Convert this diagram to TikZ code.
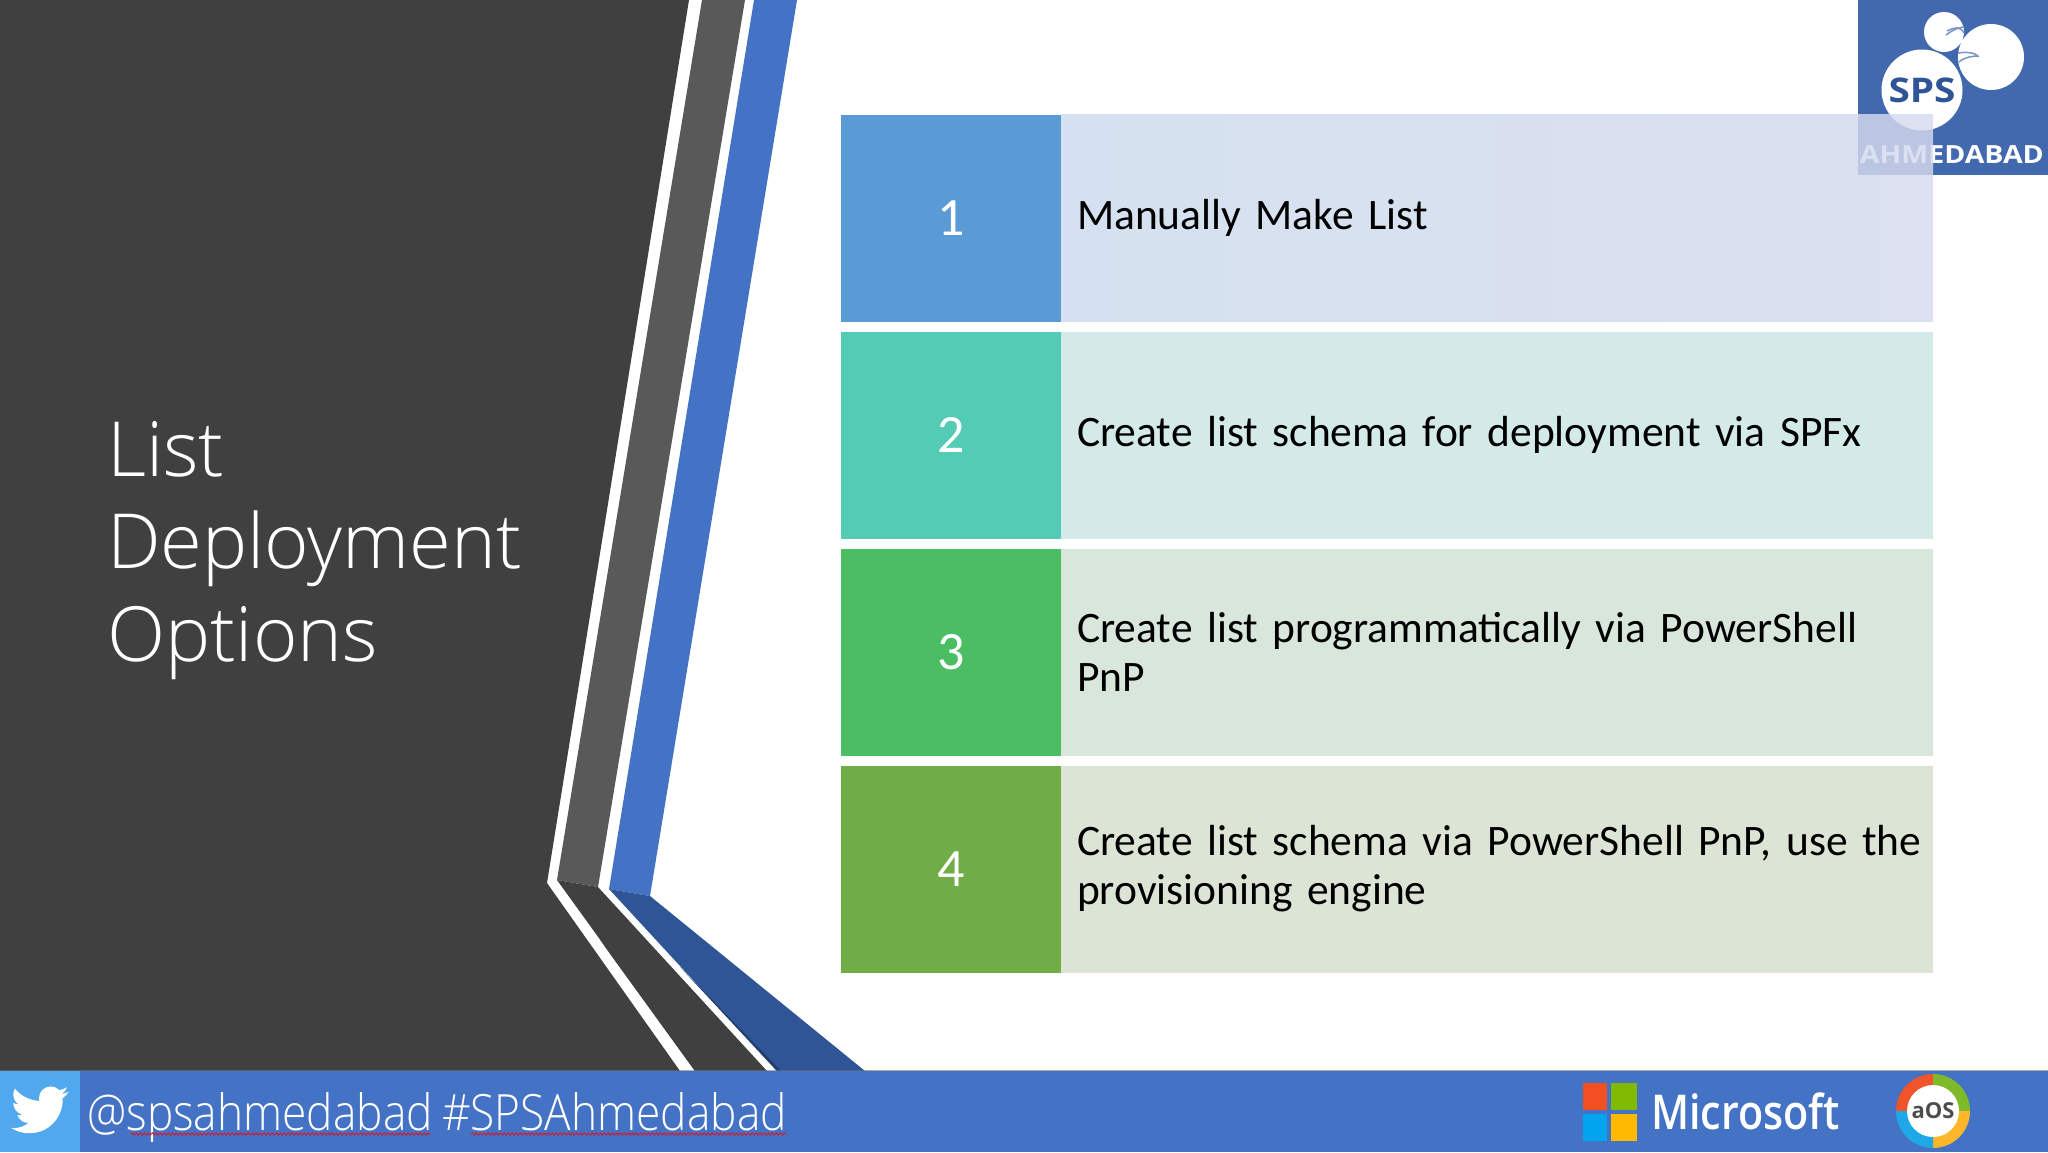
\documentclass[tikz,border=0pt]{standalone}
\usepackage{fontspec}
\setmainfont[WordSpace=0.9]{Carlito}
\newfontfamily\lightfont{Open Sans Light}
\newfontfamily\barfont[FakeStretch=0.885]{Open Sans Light}
\newfontfamily\logofont[FakeStretch=1.14]{Open Sans}
\newfontfamily\msfont[FakeStretch=0.86]{Open Sans Semibold}
\newfontfamily\aosfont{Open Sans}
\usetikzlibrary{decorations.pathmorphing}
\definecolor{slidedark}{HTML}{404040}
\definecolor{stripegrey}{HTML}{595959}
\definecolor{stripeblue}{HTML}{4472C4}
\definecolor{foldblue}{HTML}{2F5597}
\definecolor{logoblue}{HTML}{4268AE}
\definecolor{tweetblue}{HTML}{52A8EC}
\definecolor{rowonestart}{HTML}{CDDBED}
\definecolor{rowoneend}{HTML}{D5DAEE}
\tikzset{
  numbox/.style={minimum width=220, minimum height=207, inner sep=0, text=white, font=\fontsize{54}{54}\selectfont},
  bodybox/.style={minimum width=872, minimum height=207, inner sep=16, text width=840, align=left, font=\fontsize{43.5}{49}\selectfont},
  squiggle/.style={draw=red!75!stripeblue, line width=0.9, decorate, decoration={snake, amplitude=1.2, segment length=4}}
}
\begin{document}
\begin{tikzpicture}[x=1pt, y=-1pt]
    \useasboundingbox (0,0) rectangle (2048,1152);
    \fill[white] (0,0) rectangle (2048,1152);
    \fill[slidedark] (0,0) -- (689,0) -- (547,883) -- (680,1071) -- (0,1071) -- cycle;
    \fill[stripegrey] (702,0) -- (745,0) -- (598,887) -- (557,880) -- cycle;
    \fill[slidedark] (557,880) -- (598,887) -- (767,1071) -- (695,1071) -- cycle;
    \fill[black!75] (600,940) -- (695,1071) -- (701,1071) -- cycle;
    \fill[stripeblue] (754,0) -- (797,0) -- (650,896) -- (609,889) -- cycle;
    \fill[foldblue] (609,889) -- (650,896) -- (865,1071) -- (777,1071) -- cycle;
    \fill[foldblue!70!black] (680,967) -- (777,1071) -- (781,1071) -- cycle;

    \fill[logoblue] (1858,0) rectangle (2048,175);
    \fill[white] (1944,32) circle (20) (1991,57) circle (33) (1922,90) circle (40.5);
    \draw[logoblue!70!white, line width=1.5] (1946,35) .. controls (1955,28) and (1962,27) .. (1964,27)
      (1947,31) .. controls (1955,27) and (1960,26) .. (1964,33)
      (1958,53) .. controls (1965,52) and (1972,52) .. (1977,55)
      (1959,62) .. controls (1965,57) and (1972,56) .. (1979,56);
    \node[text=foldblue, font=\logofont\bfseries\fontsize{34}{34}\selectfont] (spsmark) at (1922,90) {SPS};
    \node[text=white, font=\logofont\bfseries\fontsize{25}{25}\selectfont, anchor=east, inner sep=0] (ahmedabad) at (2044,155) {AHMEDABAD};

    \foreach \i/\y/\numcol/\bodycol/\txt in {
      1/218/5B9BD5/CDDBED/{Manually Make List},
      2/435/54CBB5/D4EAE8/{Create list schema for deployment via SPFx},
      3/652/4BBE64/D8E6DC/{Create list programmatically via PowerShell\\PnP},
      4/869/70AD47/DCE5D5/{\mbox{Create list schema via PowerShell PnP, use the}\\provisioning engine}} {
      \definecolor{numfill}{HTML}{\numcol}
      \definecolor{bodyfill}{HTML}{\bodycol}
      \ifnum\i=1
        \node[bodybox, left color=rowonestart, right color=rowoneend, fill opacity=0.83, text opacity=1] (body\i) at (1497,\y) {\txt};
      \else
        \node[bodybox, fill=bodyfill] (body\i) at (1497,\y) {\txt};
      \fi
      \node[numbox, fill=numfill] (num\i) at (951,\y) {\i};
    }

    \node[text=white, anchor=north west, inner sep=0, align=left, font=\lightfont\fontsize{76}{92.5}\selectfont] (title) at (107,421) {List\\Deployment\\Options};

    \fill[stripeblue] (0,1071) rectangle (2048,1152);
    \fill[black!55, opacity=0.6] (0,1070) rectangle (2048,1071);
    \fill[tweetblue] (0,1071) rectangle (80,1152);
    \begin{scope}[shift={(11,1081)}, x=2.4pt, y=-2.4pt]
      \fill[white] (23.954,4.569) .. controls (23.069,4.958) and (22.124,5.223) .. (21.129,5.344)
        .. controls (22.143,4.733) and (22.923,3.77) .. (23.292,2.621)
        .. controls (22.341,3.176) and (21.287,3.58) .. (20.165,3.805)
        .. controls (19.269,2.846) and (17.992,2.246) .. (16.574,2.246)
        .. controls (13.857,2.246) and (11.654,4.449) .. (11.654,7.163)
        .. controls (11.654,7.553) and (11.699,7.928) .. (11.781,8.287)
        .. controls (7.691,8.094) and (4.066,6.13) .. (1.64,3.161)
        .. controls (1.213,3.883) and (.974,4.722) .. (.974,5.636)
        .. controls (.974,7.346) and (1.844,8.849) .. (3.162,9.732)
        .. controls (2.355,9.706) and (1.596,9.484) .. (.934,9.116)
        -- (.934,9.177)
        .. controls (.934,11.562) and (2.627,13.551) .. (4.88,14.004)
        .. controls (4.467,14.115) and (4.031,14.175) .. (3.584,14.175)
        .. controls (3.27,14.175) and (2.969,14.145) .. (2.668,14.089)
        .. controls (3.299,16.042) and (5.113,17.466) .. (7.272,17.506)
        .. controls (5.592,18.825) and (3.463,19.611) .. (1.17,19.611)
        .. controls (.78,19.611) and (.391,19.588) .. (0,19.544)
        .. controls (2.189,20.938) and (4.768,21.753) .. (7.557,21.753)
        .. controls (16.611,21.753) and (21.556,14.257) .. (21.556,7.767)
        .. controls (21.556,7.558) and (21.556,7.347) .. (21.541,7.137)
        .. controls (22.502,6.448) and (23.341,5.577) .. (24.001,4.589) -- cycle;
    \end{scope}
    \node[text=white, anchor=base west, inner sep=0, font=\barfont\fontsize{50}{50}\selectfont] (handle) at (87,1130) {@spsahmedabad};
    \node[text=white, anchor=base west, inner sep=0, font=\barfont\fontsize{50}{50}\selectfont] (hashtag) at (442,1130) {\#SPSAhmedabad};
    \coordinate (handleA) at (131,1134);
    \coordinate (handleB) at (431,1134);
    \coordinate (hashA) at (471,1134);
    \coordinate (hashB) at (787,1134);
    \draw[squiggle] (handleA) -- (handleB);
    \draw[squiggle] (hashA) -- (hashB);

    \foreach \xa/\ya/\xb/\yb/\tilecol in {1583/1083/1607/1110/F25022, 1611/1083/1637/1110/7FBA00, 1583/1114/1607/1141/00A4EF, 1611/1114/1637/1141/FFB900} {
      \definecolor{tilefill}{HTML}{\tilecol}
      \fill[tilefill] (\xa,\ya) rectangle (\xb,\yb);
    }
    \node[text=white, anchor=base west, inner sep=0, font=\msfont\fontsize{48}{48}\selectfont] (microsoft) at (1651,1129) {Microsoft};

    \coordinate (aoscentre) at (1933,1111);
    \foreach \from/\ringcol in {-180/F0542A, -90/7FBA2A, 0/FDB72B, 90/1FA8E8} {
      \definecolor{ringfill}{HTML}{\ringcol}
      \fill[ringfill] (aoscentre) -- ++(\from:37) arc[start angle=\from, delta angle=90, radius=37] -- cycle;
    }
    \node[circle, fill=white, minimum size=52, inner sep=0, text=black!70, font=\aosfont\bfseries\fontsize{22}{22}\selectfont] (aos) at (aoscentre) {aOS};
\end{tikzpicture}
\end{document}
